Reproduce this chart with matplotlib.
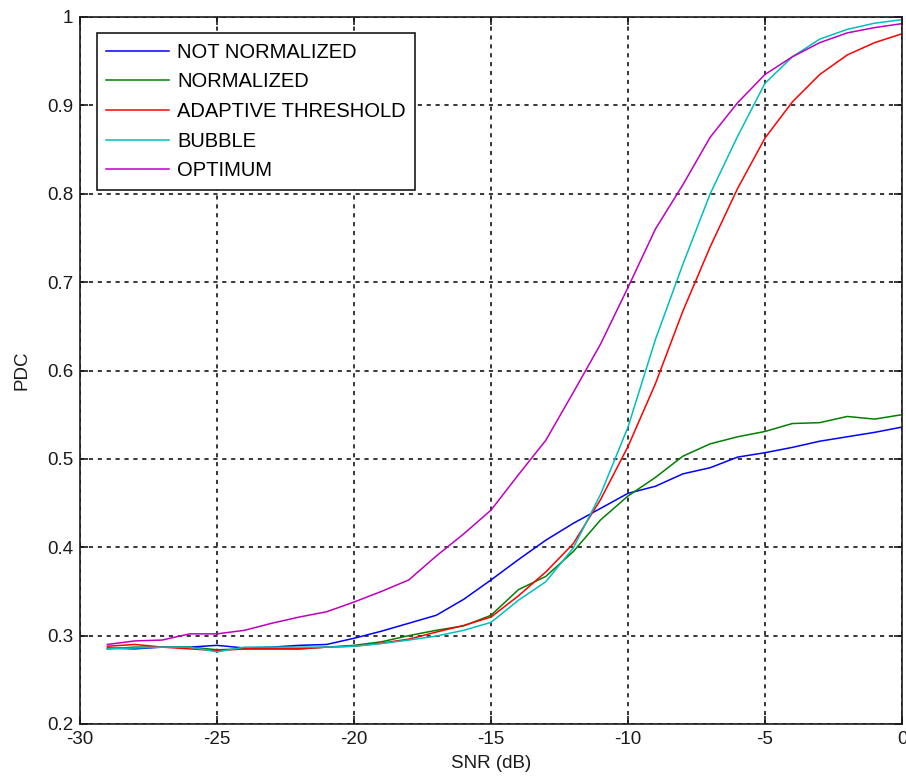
import matplotlib
matplotlib.use("Agg")
import matplotlib.pyplot as plt
import numpy as np

plt.rcParams['font.family'] = ['Liberation Sans', 'DejaVu Sans']
plt.rcParams['lines.scale_dashes'] = False

snr_db = list(range(-29, 1))

not_normalized = [0.286, 0.285, 0.287, 0.287, 0.289, 0.286, 0.287, 0.289, 0.290, 0.297,
                  0.305, 0.314, 0.323, 0.341, 0.363, 0.386, 0.408, 0.427, 0.444, 0.461,
                  0.469, 0.483, 0.490, 0.502, 0.507, 0.513, 0.520, 0.525, 0.530, 0.536]
normalized = [0.285, 0.287, 0.287, 0.287, 0.284, 0.285, 0.285, 0.285, 0.287, 0.289,
              0.293, 0.300, 0.306, 0.311, 0.323, 0.352, 0.367, 0.395, 0.431, 0.458,
              0.479, 0.503, 0.517, 0.525, 0.531, 0.540, 0.541, 0.548, 0.545, 0.550]
adaptive_threshold = [0.288, 0.290, 0.287, 0.285, 0.283, 0.285, 0.285, 0.285, 0.287, 0.288,
                      0.2915, 0.296, 0.304, 0.3115, 0.321, 0.345, 0.372, 0.404, 0.454, 0.514,
                      0.585, 0.667, 0.740, 0.806, 0.863, 0.904, 0.935, 0.957, 0.971, 0.981]
bubble = [0.285, 0.286, 0.287, 0.287, 0.2816, 0.287, 0.287, 0.287, 0.287, 0.288,
          0.291, 0.295, 0.2995, 0.306, 0.315, 0.340, 0.361, 0.399, 0.460, 0.536,
          0.635, 0.720, 0.800, 0.865, 0.925, 0.955, 0.975, 0.986, 0.993, 0.997]
optimum = [0.290, 0.294, 0.295, 0.302, 0.302, 0.306, 0.314, 0.321, 0.327, 0.338,
           0.350, 0.363, 0.390, 0.415, 0.442, 0.482, 0.521, 0.575, 0.630, 0.694,
           0.760, 0.810, 0.864, 0.903, 0.935, 0.955, 0.971, 0.982, 0.988, 0.9925]

series = [
    ("NOT NORMALIZED", not_normalized, (0, 0, 1)),
    ("NORMALIZED", normalized, (0, 0.5, 0)),
    ("ADAPTIVE THRESHOLD", adaptive_threshold, (1, 0, 0)),
    ("BUBBLE", bubble, (0, 0.75, 0.75)),
    ("OPTIMUM", optimum, (0.75, 0, 0.75)),
]

x_ticks = [-30, -25, -20, -15, -10, -5, 0]
y_ticks = [0.2, 0.3, 0.4, 0.5, 0.6, 0.7, 0.8, 0.9, 1.0]
y_tick_labels = ["0.2", "0.3", "0.4", "0.5", "0.6", "0.7", "0.8", "0.9", "1"]

fig = plt.figure(figsize=(9.06, 7.83), dpi=100)
ax = fig.add_axes([80 / 906, 1 - 724 / 783, 822 / 906, 707 / 783])

for label, values, color in series:
    ax.plot(snr_db, values, color=color, lw=1.1, label=label)

ax.set_xlim(-30, 0)
ax.set_ylim(0.2, 1.0)
ax.set_xticks(x_ticks)
ax.set_xticklabels([str(t) for t in x_ticks])
ax.set_yticks(y_ticks)
ax.set_yticklabels(y_tick_labels)
ax.grid(True, color='#262626', linestyle=(0, (3.0, 3.4)), linewidth=1.3)
ax.tick_params(direction='in', top=True, right=True, length=6, width=1.2,
               labelsize=13.5, pad=5, colors='#1a1a1a')
for s in ax.spines.values():
    s.set_linewidth(1.2)
    s.set_color('#1a1a1a')

ax.set_xlabel("SNR (dB)", fontsize=13.5, labelpad=5, color='#1a1a1a')
ax.set_ylabel("PDC", fontsize=13.5, labelpad=12, color='#1a1a1a')

leg = ax.legend(loc='upper left', bbox_to_anchor=(0.0207, 0.977), borderaxespad=0,
                fancybox=False, framealpha=1, edgecolor='#1a1a1a', fontsize=14.5,
                handlelength=3.1, handletextpad=0.4, labelspacing=0.53,
                borderpad=0.47)
leg.get_frame().set_linewidth(1.2)

fig.savefig("out.png", dpi=100)
